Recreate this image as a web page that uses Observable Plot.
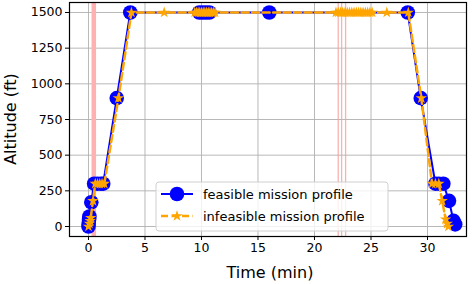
<!DOCTYPE html>
<html>
<head>
<meta charset="utf-8">
<script src="https://cdn.jsdelivr.net/npm/d3@7"></script>
<script src="https://cdn.jsdelivr.net/npm/@observablehq/plot@0.6"></script>
<style>
  html, body { margin: 0; padding: 0; background: #fff; }
  #chart { width: 474px; height: 284px; }
  svg { font-family: "DejaVu Sans", sans-serif; }
</style>
</head>
<body>
<div id="chart"></div>
<script>
// Feasible mission profile (time in min, altitude in ft)
const feasibleTime = [0, 0.02, 0.05, 0.08, 0.25, 0.5, 0.8, 1.1, 1.3, 2.5, 3.7, 9.8, 10.1, 10.4, 10.7, 16.0, 28.25, 29.4, 30.7, 31.0, 31.4, 31.9, 32.3, 32.45];
const feasibleAlt  = [0, 25, 50, 70, 170, 300, 300, 300, 300, 900, 1500, 1500, 1500, 1500, 1500, 1500, 1500, 900, 300, 300, 300, 180, 40, 15];

// Infeasible mission profile
const infeasibleTime = [0.0, 0.08, 0.15, 0.2, 0.4, 0.6, 0.8, 1.0, 1.2, 1.4, 2.65, 3.8, 6.7,
  9.4, 9.55, 9.7, 9.85, 10.0, 10.15, 10.3, 10.45, 10.6, 10.75, 10.9, 11.05, 11.2,
  21.9, 22.1, 22.3, 22.5, 22.7, 22.9, 23.1, 23.3, 23.5, 23.7, 23.9, 24.1, 24.3, 24.5, 24.7, 24.9, 25.1,
  26.4, 28.3, 29.45, 30.4, 30.7, 31.0, 31.3, 31.6, 31.75, 31.85];
const infeasibleAlt  = [0, 20, 40, 60, 180, 300, 300, 300, 300, 300, 900, 1500, 1500,
  1500, 1500, 1500, 1500, 1500, 1500, 1500, 1500, 1500, 1500, 1500, 1500, 1500,
  1500, 1500, 1500, 1500, 1500, 1500, 1500, 1500, 1500, 1500, 1500, 1500, 1500, 1500, 1500, 1500, 1500,
  1500, 1500, 900, 300, 300, 300, 180, 50, 20, 0];

// Vertical marker lines (min): one wide band near take-off, three thin lines in cruise
const bandTimes = [0.47];
const eventTimes = [22.1, 22.4, 22.75];

const xTicks = [0, 5, 10, 15, 20, 25, 30];
const yTicks = [0, 250, 500, 750, 1000, 1250, 1500];
const seriesNames = ["feasible mission profile", "infeasible mission profile"];
const xLabel = "Time (min)";
const yLabel = "Altitude (ft)";

const feasible = feasibleTime.map((t, i) => ({t, a: feasibleAlt[i]}));
const infeasible = infeasibleTime.map((t, i) => ({t, a: infeasibleAlt[i]}));

const W = 474, H = 284;
const plot = Plot.plot({
  width: W, height: H,
  marginLeft: 69, marginRight: 8, marginTop: 2, marginBottom: 48,
  style: {fontFamily: "DejaVu Sans, sans-serif", fontSize: "12px", background: "white", color: "black"},
  x: {domain: [-1.68, 33.45]},
  y: {domain: [-70, 1570]},
  marks: [
    Plot.gridX(xTicks, {stroke: "#b0b0b0", strokeOpacity: 1, strokeWidth: 0.9}),
    Plot.gridY(yTicks, {stroke: "#b0b0b0", strokeOpacity: 1, strokeWidth: 0.9}),
    Plot.ruleX(bandTimes, {stroke: "#ffb0b0", strokeOpacity: 1, strokeWidth: 4.5}),
    Plot.ruleX(eventTimes, {stroke: "#f4a0a0", strokeOpacity: 0.8, strokeWidth: 1.3}),
    Plot.line(feasible, {x: "t", y: "a", stroke: "blue", strokeWidth: 2}),
    Plot.dot(feasible, {x: "t", y: "a", r: 7.3, fill: "blue", stroke: "none"}),
    Plot.line(infeasible, {x: "t", y: "a", stroke: "orange", strokeWidth: 2.5, strokeDasharray: "7,3.5"}),
    Plot.dot(infeasible, {x: "t", y: "a", r: 3.6, symbol: "star", fill: "orange", stroke: "none"}),
    Plot.axisX(xTicks, {tickSize: 4, tickPadding: 3, fontSize: 12.5, label: null, stroke: "black", tickFormat: d3.format("d")}),
    Plot.axisY(yTicks, {tickSize: 4, tickPadding: 3, fontSize: 12.5, label: null, stroke: "black", tickFormat: d3.format("d")}),
    Plot.frame({stroke: "black", strokeWidth: 1.2})
  ]
});
document.getElementById("chart").appendChild(plot);

const svg = d3.select(plot);
// axis labels
svg.append("text").attr("x", 270).attr("y", 278).attr("text-anchor", "middle")
  .attr("font-size", 16).attr("fill", "black").text(xLabel);
svg.append("text").attr("transform", "translate(16,119) rotate(-90)").attr("text-anchor", "middle")
  .attr("font-size", 16).attr("fill", "black").text(yLabel);

// legend
const lg = svg.append("g").attr("transform", "translate(156,182)");
lg.append("rect").attr("x", 0).attr("y", 0).attr("width", 232).attr("height", 49).attr("rx", 3)
  .attr("fill", "white").attr("fill-opacity", 0.8).attr("stroke", "#d0d0d0");
const rowY = [12, 34];
lg.append("line").attr("x1", 5).attr("x2", 37).attr("y1", rowY[0]).attr("y2", rowY[0]).attr("stroke", "blue").attr("stroke-width", 2);
lg.append("circle").attr("cx", 21).attr("cy", rowY[0]).attr("r", 7.3).attr("fill", "blue");
lg.append("line").attr("x1", 5).attr("x2", 37).attr("y1", rowY[1]).attr("y2", rowY[1]).attr("stroke", "orange").attr("stroke-width", 2.5).attr("stroke-dasharray", "7,3.5");
lg.append("path").attr("transform", `translate(21,${rowY[1]})`).attr("d", d3.symbol(d3.symbolStar, 40)()).attr("fill", "orange");
seriesNames.forEach((n, i) => {
  lg.append("text").attr("x", 47).attr("y", rowY[i]).attr("dy", "0.35em")
    .attr("text-anchor", "start")
    .attr("font-size", 13).attr("fill", "black").text(n);
});
</script>
</body>
</html>
